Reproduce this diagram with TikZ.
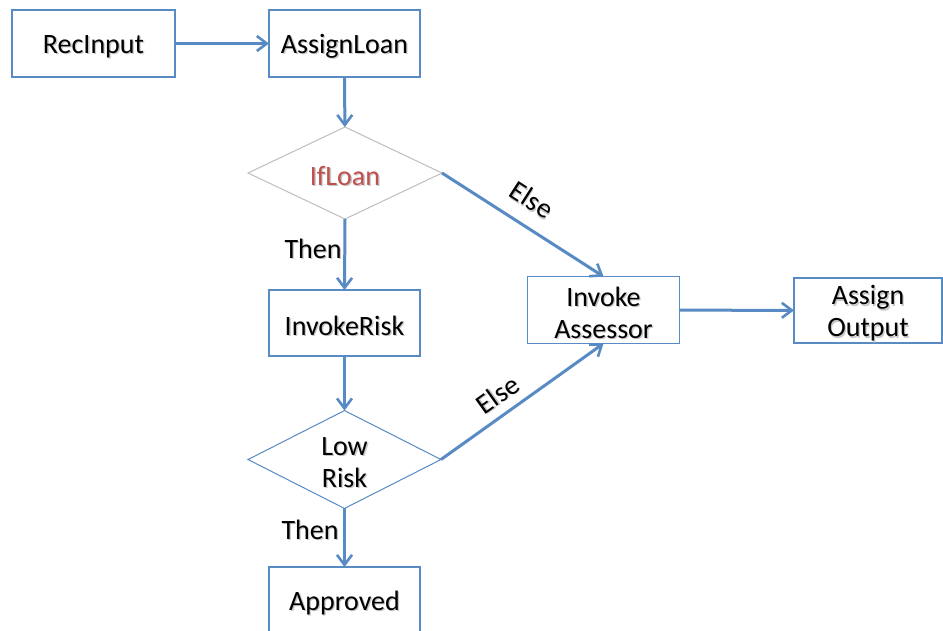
\documentclass[tikz,border=0pt]{standalone}
\usepackage{fontspec}
\setmainfont{Carlito}
\usetikzlibrary{arrows.meta,shapes.geometric}
\definecolor{flowblue}{RGB}{88,138,196}
\definecolor{condred}{RGB}{192,80,77}
\definecolor{diagray}{RGB}{190,190,190}
% text with a soft drop shadow behind it, set a little below its box
\newcommand{\shd}[1]{\raisebox{-3.5pt}[\height][\depth]{\makebox[0pt][l]{\hspace{1.3pt}\raisebox{-1.3pt}{\textcolor{black!22}{#1}}}#1}}
\tikzset{
  stepbox/.style={draw=flowblue, line width=1.1pt, fill=white, rectangle,
    inner sep=0pt, outer sep=0pt, align=center,
    font=\fontsize{28}{32}\selectfont},
  choice/.style={diamond, fill=white, inner sep=0pt, outer sep=0pt,
    line width=1pt, align=center, font=\fontsize{28}{32}\selectfont},
  flow/.style={draw=flowblue, line width=3pt,
    -{Straight Barb[length=10pt,width=15pt,line width=2.6pt]}},
  lbl/.style={font=\fontsize{28}{32}\selectfont, inner sep=0pt}
}
\begin{document}
\begin{tikzpicture}[x=1pt,y=-1pt]
\useasboundingbox (0,0) rectangle (943,630);
\clip (0,0) rectangle (943,630);
\fill[white] (0,0) rectangle (943,630);

% processing steps
\node[stepbox, minimum width=163pt, minimum height=67pt] (rec) at (93.5,43.5) {\shd{RecInput}};
\node[stepbox, minimum width=151pt, minimum height=67pt] (assign) at (344.5,43.5) {\shd{AssignLoan}};
\node[stepbox, minimum width=151pt, minimum height=66pt] (risk) at (344.5,323) {\shd{InvokeRisk}};
\node[stepbox, minimum width=151pt, minimum height=66pt] (approved) at (344.5,600) {\shd{Approved}};
\node[stepbox, minimum width=152pt, minimum height=67pt] (assessor) at (603.5,310) {\shd{Invoke}\\\shd{Assessor}};
\node[stepbox, minimum width=148pt, minimum height=65pt] (output) at (868,310.5) {\shd{Assign}\\\shd{Output}};

% decisions
\node[choice, draw=diagray, minimum width=194pt, minimum height=92pt, text=condred] (ifloan) at (345,173) {\shd{IfLoan}};
\node[choice, draw=flowblue, minimum width=193pt, minimum height=91pt] (low) at (344.5,459.5) {\shd{Low}\\\shd{Risk}};

% connectors
\draw[flow] (rec) -- (assign);
\draw[flow] (assign) -- (ifloan);
\draw[flow] (ifloan.east) -- node[lbl, pos=0.47, sloped, above=17pt] {\shd{Else}} (assessor.north);
\draw[flow] (ifloan.south) -- (risk.north);
\draw[flow] (risk) -- (low);
\draw[flow] (low.east) -- node[lbl, pos=0.42, sloped, above=11pt] {\shd{Else}} (assessor.south);
\draw[flow] (low.south) -- (approved.north);
\draw[flow] (assessor) -- (output);

% branch labels
\node[lbl] (then1) at (313,246) {\shd{Then}};
\node[lbl] (then2) at (310,527) {\shd{Then}};
\end{tikzpicture}
\end{document}
